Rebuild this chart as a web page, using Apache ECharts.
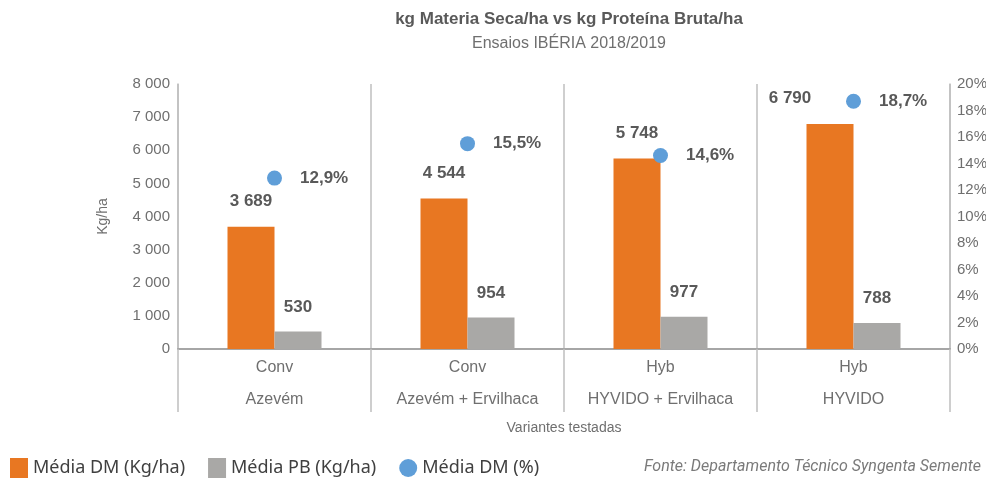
<!DOCTYPE html>
<html>
<head>
<meta charset="utf-8">
<script src="https://cdn.jsdelivr.net/npm/echarts@6/dist/echarts.min.js"></script>
<style>
html, body { margin: 0; padding: 0; background: #fff; }
#chart { width: 986px; height: 479px; }
</style>
</head>
<body>
<div id="chart"></div>
<script>
// dados do gráfico
var categorias = ['Conv\nAzevém', 'Conv\nAzevém + Ervilhaca', 'Hyb\nHYVIDO + Ervilhaca', 'Hyb\nHYVIDO'];
var mediaDM = [3689, 4544, 5748, 6790];
var mediaPB = [530, 954, 977, 788];
var mediaDMpct = [12.9, 15.5, 14.6, 18.7];

function milhares(v) {
    return String(v).replace(/\B(?=(\d{3})+(?!\d))/g, ' ');
}

var myChart = echarts.init(document.getElementById('chart'));

var textoEixo = '#6f6f6f';
var linha = '#bfbfbf';
var rotulo = { show: true, fontSize: 17, fontWeight: 'bold', color: '#595959', fontFamily: 'Liberation Sans' };

// o último rótulo da barra laranja fica deslocado à esquerda (evita o ponto)
var dadosDM = mediaDM.map(function (v, i) {
    return i === mediaDM.length - 1 ? { value: v, label: { offset: [-40, 0] } } : v;
});

var option = {
    animation: false,
    textStyle: { fontFamily: 'Roboto' },
    title: [
        {
            text: 'kg Materia Seca/ha vs kg Proteína Bruta/ha',
            subtext: 'Ensaios IBÉRIA 2018/2019',
            left: 564,
            textAlign: 'center',
            top: 6,
            itemGap: 8,
            textStyle: { fontSize: 17, fontWeight: 'bold', color: '#595959', fontFamily: 'Liberation Sans' },
            subtextStyle: { fontSize: 16, color: '#6f6f6f', fontFamily: 'Liberation Sans' }
        },
        {
            text: 'Fonte: Departamento Técnico Syngenta Semente',
            right: 0,
            top: 454,
            textStyle: { fontSize: 16, fontWeight: 'normal', fontStyle: 'italic', color: '#7a7a7a', fontFamily: 'Roboto' }
        }
    ],
    legend: {
        left: 5,
        top: 453,
        itemWidth: 18,
        itemHeight: 20,
        itemGap: 23,
        textStyle: { fontSize: 18, color: '#404040', fontFamily: 'Noto Sans' },
        data: [
            { name: 'Média DM (Kg/ha)', icon: 'rect' },
            { name: 'Média PB (Kg/ha)', icon: 'rect' },
            { name: 'Média DM (%)', icon: 'circle' }
        ]
    },
    grid: { left: 178, right: 36, top: 84, bottom: 130, outerBoundsMode: 'none', containLabel: false },
    xAxis: {
        type: 'category',
        data: categorias,
        name: 'Variantes testadas',
        nameLocation: 'middle',
        nameGap: 65,
        nameTextStyle: { fontSize: 14, color: textoEixo, fontFamily: 'Liberation Sans' },
        axisLine: { lineStyle: { color: '#a6a6a6', width: 2 } },
        axisTick: { show: true, interval: 0, length: 63, lineStyle: { color: linha, width: 1.5 } },
        splitLine: { show: true, interval: 0, lineStyle: { color: linha, width: 1.5 } },
        axisLabel: { interval: 0, fontSize: 16, lineHeight: 32, margin: 3, color: textoEixo, fontFamily: 'Liberation Sans' }
    },
    yAxis: [
        {
            type: 'value',
            min: 0,
            max: 8000,
            interval: 1000,
            name: 'Kg/ha',
            nameLocation: 'middle',
            nameGap: 68,
            nameRotate: 90,
            nameTextStyle: { fontSize: 14, color: textoEixo, fontFamily: 'Liberation Sans' },
            axisLine: { show: true, lineStyle: { color: linha, width: 1.5 } },
            axisTick: { show: false },
            splitLine: { show: false },
            axisLabel: { fontSize: 15, color: textoEixo, margin: 8, fontFamily: 'Liberation Sans', formatter: function (v) { return milhares(v); } }
        },
        {
            type: 'value',
            min: 0,
            max: 20,
            interval: 2,
            position: 'right',
            axisLine: { show: true, lineStyle: { color: linha, width: 1.5 } },
            axisTick: { show: false },
            splitLine: { show: false },
            axisLabel: { fontSize: 15, color: textoEixo, margin: 7, fontFamily: 'Liberation Sans', formatter: '{value}%' }
        }
    ],
    series: [
        {
            name: 'Média DM (Kg/ha)',
            type: 'bar',
            data: dadosDM,
            barWidth: 47,
            barGap: '0%',
            itemStyle: { color: '#E87722' },
            label: Object.assign({}, rotulo, { position: 'top', distance: 17, formatter: function (p) { return milhares(p.value); } })
        },
        {
            name: 'Média PB (Kg/ha)',
            type: 'bar',
            data: mediaPB,
            barWidth: 47,
            barGap: '0%',
            itemStyle: { color: '#A9A8A6' },
            label: Object.assign({}, rotulo, { position: 'top', distance: 16, formatter: function (p) { return milhares(p.value); } })
        },
        {
            name: 'Média DM (%)',
            type: 'scatter',
            yAxisIndex: 1,
            data: mediaDMpct,
            symbolSize: 15,
            itemStyle: { color: '#5F9ED8', opacity: 1 },
            emphasis: { disabled: true },
            label: Object.assign({}, rotulo, { position: 'right', distance: 18, formatter: function (p) { return String(p.value).replace('.', ',') + '%'; } })
        }
    ]
};
myChart.setOption(option);
</script>
</body>
</html>
